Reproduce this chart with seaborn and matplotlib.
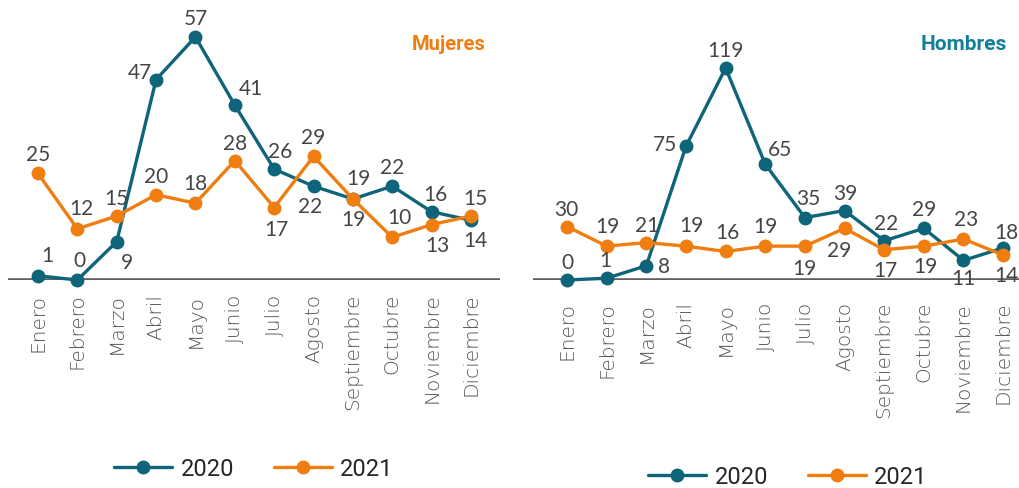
import matplotlib
matplotlib.use("Agg")
import matplotlib.pyplot as plt
import seaborn as sns
import pandas as pd

meses = ["Enero", "Febrero", "Marzo", "Abril", "Mayo", "Junio", "Julio",
         "Agosto", "Septiembre", "Octubre", "Noviembre", "Diciembre"]
mujeres_2020 = [1, 0, 9, 47, 57, 41, 26, 22, 19, 22, 16, 14]
mujeres_2021 = [25, 12, 15, 20, 18, 28, 17, 29, 19, 10, 13, 15]
hombres_2020 = [0, 1, 8, 75, 119, 65, 35, 39, 22, 29, 11, 18]
hombres_2021 = [30, 19, 21, 19, 16, 19, 19, 29, 17, 19, 23, 14]
years = ["2020", "2021"]

# label offsets (pixels) - layout only
off_m20 = [(9, 21), (2, 20), (10, -20), (-16, 8), (0, 19), (16, 17), (6, 18),
           (-3, -20), (5, 21), (0, 19), (4, 18), (4, -20)]
off_m21 = [(0, 19), (4, 21), (0, 18), (0, 19), (0, 20), (0, 18), (2, -22),
           (0, 19), (0, -20), (7, 20), (6, -20), (4, 18)]
off_h20 = [(0, 18), (-1, 18), (18, 0), (-21, 2), (0, 18), (15, 15), (3, 20),
           (1, 18), (2, 18), (0, 19), (0, -18), (3, 16)]
off_h21 = [(-1, 18), (1, 20), (1, 18), (5, 21), (2, 19), (0, 20), (-1, -22),
           (-5, -22), (1, -20), (2, -20), (3, 20), (3, -20)]

TEAL = "#0e6479"
ORANGE = "#ef7d10"
GRAY = "#454545"

sns.set_theme(style="white")
plt.rcParams["font.family"] = ["Lato", "DejaVu Sans"]

fig = plt.figure(figsize=(10.19, 4.89), dpi=100)
axL = fig.add_axes([8 / 1019, 208 / 489, 492 / 1019, 261 / 489])
axR = fig.add_axes([533 / 1019, 208 / 489, 486 / 1019, 261 / 489])


def draw(ax, v20, v21, o20, o21, xlim, ylim, title, tcolor, tx, tsize, pad, leg_xy):
    df = pd.DataFrame({
        "mes": meses * 2,
        "x": list(range(12)) * 2,
        "valor": v20 + v21,
        "año": [years[0]] * 12 + [years[1]] * 12,
    })
    sns.lineplot(data=df, x="x", y="valor", hue="año",
                 palette={"2020": TEAL, "2021": ORANGE},
                 marker="o", markersize=10, markeredgewidth=0,
                 linewidth=2.4, ax=ax, clip_on=False, zorder=3)
    for v, o in zip([v20, v21], [o20, o21]):
        for i, (val, off) in enumerate(zip(v, o)):
            ax.annotate(str(val), (i, val), xytext=off, textcoords="offset pixels",
                        ha="center", va="center", fontsize=15, color=GRAY,
                        zorder=5)
    ax.axhline(0, color="#606060", lw=2.6, zorder=1)
    ax.set_xlim(*xlim)
    ax.set_ylim(*ylim)
    ax.set_xticks(range(12))
    ax.set_xticklabels(meses, rotation=90, fontsize=14.5, color="#555555",
                       family=["DejaVu Sans"], fontweight="light")
    ax.tick_params(axis="x", length=0, pad=pad)
    ax.set_yticks([])
    ax.set_xlabel("")
    ax.set_ylabel("")
    for s in ax.spines.values():
        s.set_visible(False)
    ax.text(tx, 0.905, title,
            transform=ax.transAxes, ha="right", va="center",
            fontsize=tsize, fontweight="bold", color=tcolor,
            family=["Roboto", "DejaVu Sans"])
    handles, labels = ax.get_legend_handles_labels()
    if ax.get_legend() is not None:
        ax.get_legend().remove()
    fig.legend(handles, labels, loc="center", bbox_to_anchor=leg_xy,
               bbox_transform=fig.transFigure, ncol=2, frameon=False,
               handlelength=2.45, columnspacing=1.7, handletextpad=0.35,
               prop={"family": ["Roboto", "DejaVu Sans"], "size": 17})


draw(axL, mujeres_2020, mujeres_2021, off_m20, off_m21,
     (-0.762, 11.737), (0, 61.2), "Mujeres", ORANGE, 0.97, 14.5, 9,
     (254 / 1019, 1 - 470 / 489))
draw(axR, hombres_2020, hombres_2021, off_h20, off_h21,
     (-0.858, 11.40), (0, 146.5), "Hombres", "#13809a", 0.975, 15, 15,
     (788 / 1019, 1 - 478 / 489))

fig.savefig("out.png", dpi=100)
